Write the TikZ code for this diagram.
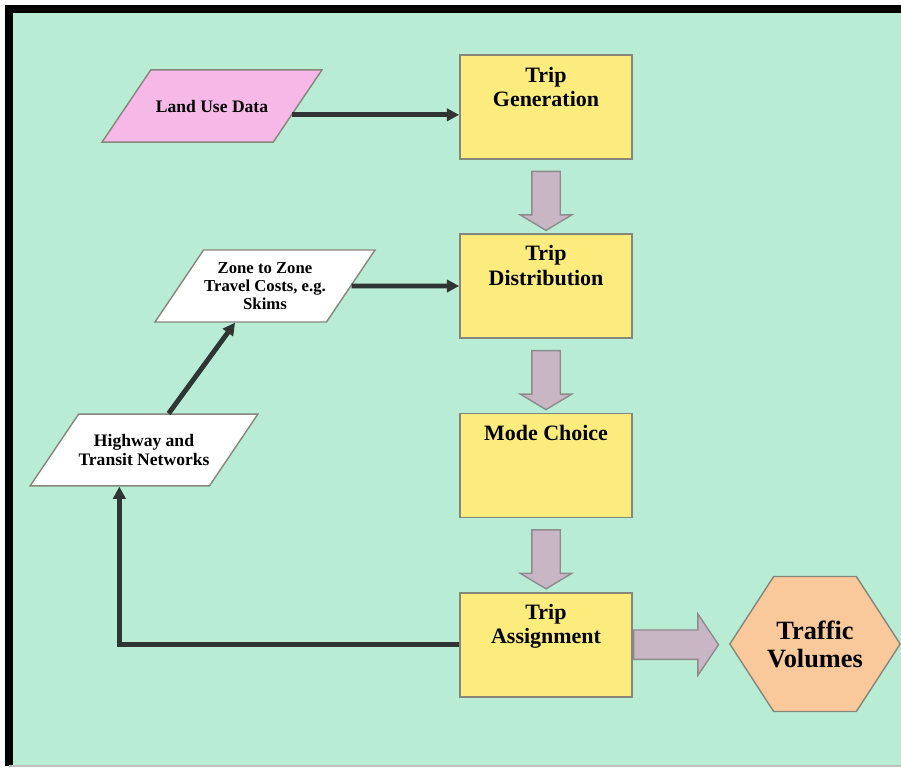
\documentclass[tikz,border=0pt]{standalone}
\usepackage{fontspec}
\setmainfont{Liberation Serif}
\usetikzlibrary{positioning,calc,arrows.meta,shapes.geometric,shapes.arrows,shapes.symbols}

\definecolor{mintbg}{HTML}{B9ECD4}
\definecolor{procyellow}{HTML}{FCEC7D}
\definecolor{landpink}{HTML}{F6B8E6}
\definecolor{volpeach}{HTML}{F9C89B}
\definecolor{flowfill}{HTML}{C8B6C4}
\definecolor{flowline}{HTML}{8C8C8C}
\definecolor{boxline}{HTML}{86867A}
\definecolor{linkdark}{HTML}{2F3532}

\tikzset{
  procbox/.style={draw=boxline, line width=1pt, fill=procyellow,
    minimum width=3.44cm, minimum height=2.08cm, inner sep=0pt},
  proctext/.style={align=center, inner sep=0pt,
    font=\bfseries\fontsize{12.5}{14}\selectfont},
  datashape/.style={trapezium, trapezium left angle=56, trapezium right angle=124,
    trapezium stretches body=true, draw=boxline, line width=0.8pt,
    minimum width=4.4cm, align=center, inner xsep=0pt,
    font=\bfseries\fontsize{10}{11}\selectfont},
  downflow/.style={single arrow, draw=flowline, line width=0.8pt, fill=flowfill,
    minimum height=1.18cm, inner sep=0.27cm, single arrow head extend=0.23cm,
    single arrow tip angle=118, rotate=-90},
  sideflow/.style={single arrow, draw=flowline, line width=0.8pt, fill=flowfill,
    minimum height=1.7cm, inner sep=0.28cm, single arrow head extend=0.32cm,
    single arrow tip angle=112},
  link/.style={draw=linkdark, line width=2.8pt, -{Triangle[length=7pt,width=7pt]}}
}

\begin{document}
\begin{tikzpicture}[x=0.02cm,y=-0.02cm]
    \useasboundingbox (0,0) rectangle (901,771);

    % Frame
    \fill[mintbg] (6,6) rectangle (901,766);
    \draw[black, line width=0.16cm] (5,9) -- (901,9);
    \draw[black, line width=0.16cm] (9,5) -- (9,766);
    \draw[black!25, line width=0.04cm] (9,766) -- (901,766);

    % Model steps
    \node[procbox] (gen) at (546,107) {};
    \node[procbox, below=1.47cm of gen] (dist) {};
    \node[procbox, below=1.47cm of dist] (mode) {};
    \node[procbox, below=1.47cm of mode] (asg) {};

    \node[proctext, below=0.25cm of gen.north] (gentext) {Trip\\Generation};
    \node[proctext, below=0.23cm of dist.north] (disttext) {Trip\\Distribution};
    \node[proctext, below=0.25cm of mode.north] (modetext) {Mode Choice};
    \node[proctext, below=0.24cm of asg.north] (asgtext) {Trip\\Assignment};

    % Block arrows
    \node[downflow] (gendist) at ($(gen.south)!0.5!(dist.north)$) {};
    \node[downflow] (distmode) at ($(dist.south)!0.5!(mode.north)$) {};
    \node[downflow] (modeasg) at ($(mode.south)!0.5!(asg.north)$) {};
    \node[sideflow, right=0pt of asg] (asgvol) {};

    % Output
    \node[signal, signal to=west and east, signal pointer angle=114, draw=boxline,
      line width=0.8pt, fill=volpeach, minimum height=2.7cm,
      inner ysep=0pt, inner xsep=-0.13cm, align=center,
      font=\bfseries\fontsize{15}{16}\selectfont]
      (vol) at (815,644) {Traffic\\Volumes};

    % Inputs
    \node[datashape, fill=landpink, inner ysep=0.6cm] (land) at (212,106) {Land Use Data};
    \node[datashape, fill=white, inner ysep=0.25cm,
      font=\bfseries\fontsize{9.5}{10.2}\selectfont]
      (zone) at (265,286) {Zone to Zone\\Travel Costs, e.g.\\Skims};
    \node[datashape, fill=white, inner ysep=0.4cm] (hwy) at (144,450) {Highway and\\Transit Networks};

    % Connectors
    \coordinate (landout) at ($(land.top right corner)!0.62!(land.bottom right corner)$);
    \coordinate (hwytop) at ($(hwy.top left corner)!0.5!(hwy.top right corner)$);
    \coordinate (hwybottom) at ($(hwy.bottom left corner)!0.5!(hwy.bottom right corner)$);
    \coordinate (zonebottom) at ($(zone.bottom left corner)!0.47!(zone.bottom right corner)$);
    \draw[link] (landout) -- (landout -| gen.west);
    \draw[link] (zone) -- (zone -| dist.west);
    \draw[link] (hwytop) -- (zonebottom);
    \draw[link] (asg.west) -| (hwybottom);
\end{tikzpicture}
\end{document}
